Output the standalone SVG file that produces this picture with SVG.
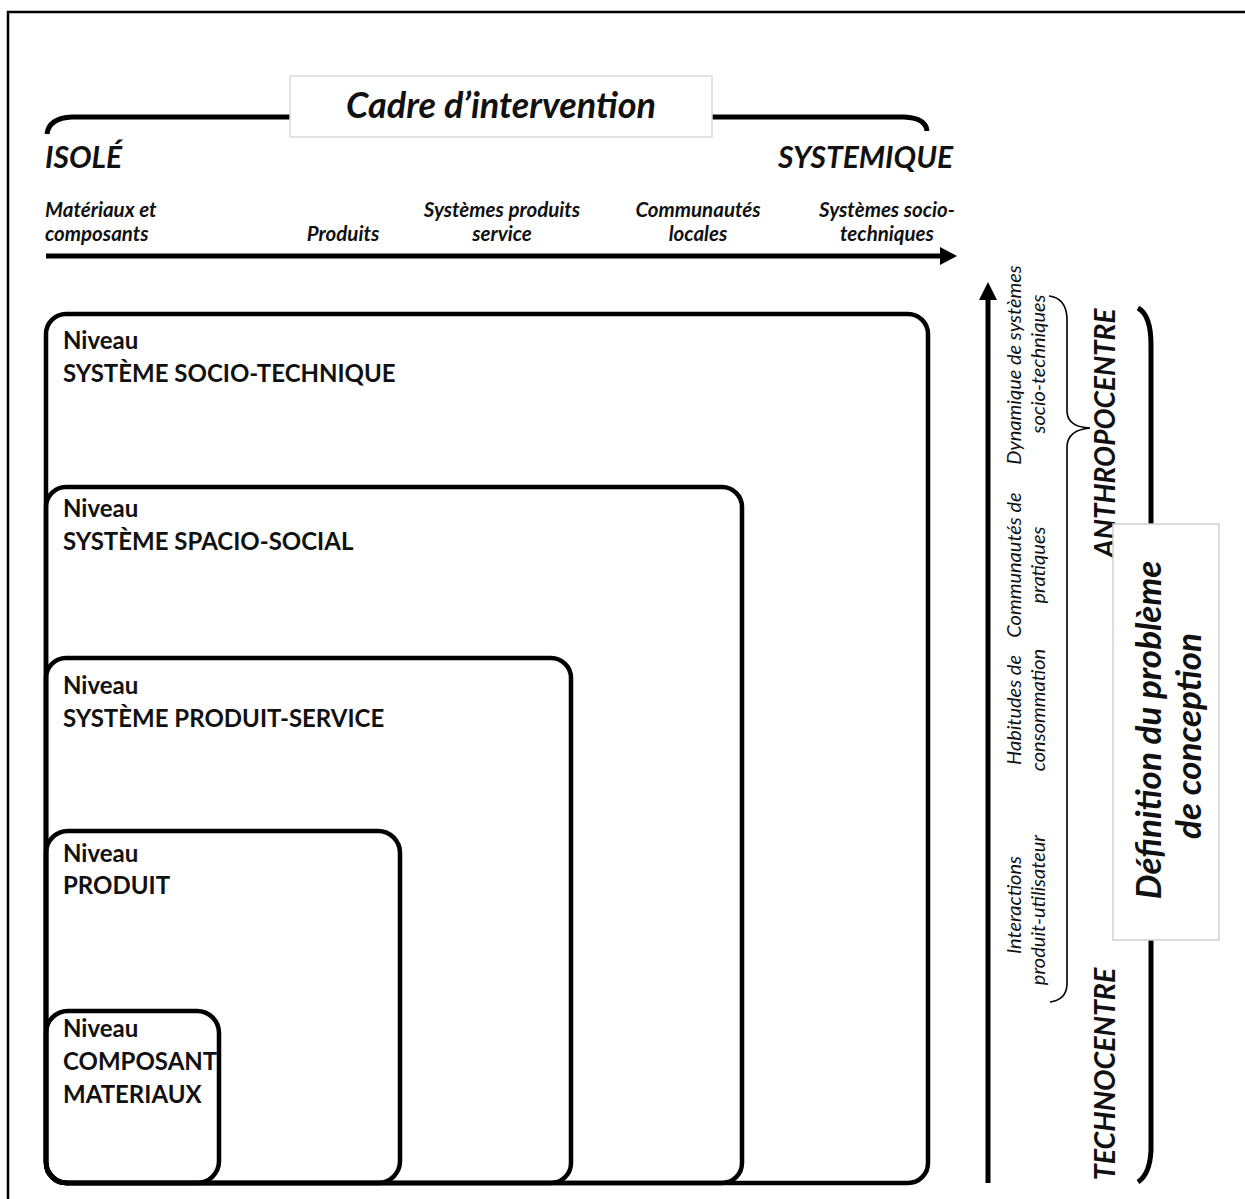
<svg xmlns="http://www.w3.org/2000/svg" width="1245" height="1199" viewBox="0 0 1245 1199">
<style>
.box{fill:none;stroke:#000;stroke-width:4.5}
.lvl{font-family:Lato,"Liberation Sans",sans-serif;font-weight:bold;font-size:24px;fill:#111}
.bi{font-family:Lato,"Liberation Sans",sans-serif;font-weight:bold;font-style:italic;fill:#111}
.it{font-family:Lato,"Liberation Sans",sans-serif;font-style:italic;font-size:20px;fill:#111}
.thick{fill:none;stroke:#000;stroke-width:5}
.thin{fill:none;stroke:#000;stroke-width:1.6}
</style>
<rect width="1245" height="1199" fill="#fff"/>
<path d="M8,1199 V12 H1245" fill="none" stroke="#000" stroke-width="2.5"/>

<g id="header">
<path class="thick" d="M47,134 Q49,118 72,117 H292"/>
<path class="thick" d="M710,117 H904 Q926,118 927,131"/>
<rect x="290" y="76" width="422" height="61" fill="#fff" stroke="#d9d9d9" stroke-width="1.5"/>
<text class="bi" x="501" y="118" font-size="36" text-anchor="middle">Cadre d’intervention</text>
<text class="bi" x="45" y="168" font-size="30">ISOLÉ</text>
<text class="bi" x="953" y="168" font-size="30" text-anchor="end">SYSTEMIQUE</text>
</g>

<g id="scale-labels" class="bi" font-size="20.5">
<text x="45" y="217">Matériaux et</text>
<text x="45" y="241">composants</text>
<text x="343" y="241" text-anchor="middle">Produits</text>
<text x="502" y="217" text-anchor="middle">Systèmes produits</text>
<text x="502" y="241" text-anchor="middle">service</text>
<text x="698" y="217" text-anchor="middle">Communautés</text>
<text x="698" y="241" text-anchor="middle">locales</text>
<text x="887" y="217" text-anchor="middle">Systèmes socio-</text>
<text x="887" y="241" text-anchor="middle">techniques</text>
</g>

<g id="connectors">
<line x1="46" y1="256" x2="942" y2="256" stroke="#000" stroke-width="5"/>
<polygon points="957,256 940,247 940,265" fill="#000"/>
<line x1="988" y1="1183" x2="988" y2="298" stroke="#000" stroke-width="5"/>
<polygon points="988,282 979,300 997,300" fill="#000"/>
</g>

<g id="level-socio-technique">
<rect class="box" x="46" y="314" width="882" height="869" rx="20"/>
<text class="lvl" x="63" y="349">Niveau</text>
<text class="lvl" x="63" y="382">SYSTÈME SOCIO-TECHNIQUE</text>
</g>
<g id="level-spacio-social">
<rect class="box" x="46" y="487" width="696" height="696" rx="20"/>
<text class="lvl" x="63" y="517">Niveau</text>
<text class="lvl" x="63" y="550">SYSTÈME SPACIO-SOCIAL</text>
</g>
<g id="level-produit-service">
<rect class="box" x="46" y="658" width="525" height="525" rx="20"/>
<text class="lvl" x="63" y="694">Niveau</text>
<text class="lvl" x="63" y="727">SYSTÈME PRODUIT-SERVICE</text>
</g>
<g id="level-produit">
<rect class="box" x="46" y="831" width="354" height="352" rx="22"/>
<text class="lvl" x="63" y="862">Niveau</text>
<text class="lvl" x="63" y="894">PRODUIT</text>
</g>
<g id="level-composant">
<rect class="box" x="46" y="1011" width="173" height="172" rx="22"/>
<text class="lvl" x="63" y="1037">Niveau</text>
<text class="lvl" x="63" y="1070">COMPOSANT</text>
<text class="lvl" x="63" y="1103">MATERIAUX</text>
</g>

<g id="dimension-labels" class="it">
<text transform="translate(1021,365) rotate(-90)" text-anchor="middle">Dynamique de systèmes</text>
<text transform="translate(1045,364) rotate(-90)" text-anchor="middle">socio-techniques</text>
<text transform="translate(1021,565) rotate(-90)" text-anchor="middle">Communautés de</text>
<text transform="translate(1045,565) rotate(-90)" text-anchor="middle">pratiques</text>
<text transform="translate(1021,710) rotate(-90)" text-anchor="middle">Habitudes de</text>
<text transform="translate(1045,710) rotate(-90)" text-anchor="middle">consommation</text>
<text transform="translate(1021,905) rotate(-90)" text-anchor="middle">Interactions</text>
<text transform="translate(1045,910) rotate(-90)" text-anchor="middle">produit-utilisateur</text>
</g>

<g id="brace-anthropo">
<path class="thin" d="M1049,296 Q1066,298 1067,318 V412 Q1068,427 1090,428 Q1068,430 1067,446 V985 Q1066,1000 1050,1002"/>
</g>

<g id="poles">
<text class="bi" font-size="28" transform="translate(1115,433) rotate(-90)" text-anchor="middle">ANTHROPOCENTRE</text>
<text class="bi" font-size="28.5" transform="translate(1115,1074) rotate(-90)" text-anchor="middle">TECHNOCENTRE</text>
<path class="thick" d="M1138,308 Q1151,315 1151,345 V1150 Q1150,1174 1138,1182"/>
</g>

<g id="definition">
<rect x="1113" y="524" width="106" height="416" fill="#fff" stroke="#cfcfcf" stroke-width="1.5"/>
<text class="bi" font-size="35" transform="translate(1161,730) rotate(-90)" text-anchor="middle">Définition du problème</text>
<text class="bi" font-size="35" transform="translate(1201,736) rotate(-90)" text-anchor="middle">de conception</text>
</g>
</svg>
